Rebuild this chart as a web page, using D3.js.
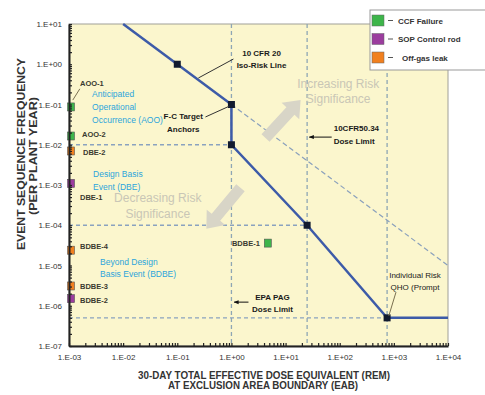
<!DOCTYPE html>
<html>
<head>
<meta charset="utf-8">
<script src="https://cdn.jsdelivr.net/npm/d3@7"></script>
<style>
  body { margin: 0; background: #fff; }
  svg { display: block; font-family: Arial, 'Liberation Sans', sans-serif; }
</style>
</head>
<body>
<div id="chart"></div>
<script>
// ---- data ----
const xTicks = [1e-3, 1e-2, 1e-1, 1e0, 1e1, 1e2, 1e3, 1e4];
const yTicks = [1e-7, 1e-6, 1e-5, 1e-4, 1e-3, 1e-2, 1e-1, 1e0, 1e1];

const isoRiskLine = [[1e-2, 1e1], [1e-1, 1e0], [1e0, 1e-1]];
const isoRiskExtension = [[1e0, 1e-1], [1e4, 1e-5]];
const fcTargetLine = [[1e0, 1e-1], [1e0, 1e-2], [25, 1e-4], [750, 5e-7], [1e4, 5e-7]];
const anchorPoints = [[1e-1, 1e0], [1e0, 1e-1], [1e0, 1e-2], [25, 1e-4], [750, 5e-7]];

const doseLimits = [1, 25, 750];
const freqLevels = [1e-2, 1e-4, 5e-7];
const freqLevelEnds = [1, 25, 750];

const eventNames = ['AOO-1', 'AOO-2', 'DBE-2', 'DBE-1', 'BDBE-4', 'BDBE-3', 'BDBE-2', 'BDBE-1'];
const eventDose = [1e-3, 1e-3, 1e-3, 1e-3, 1e-3, 1e-3, 1e-3, 4.7];
const eventFreq = [8.7e-2, 1.65e-2, 7e-3, 1.1e-3, 2.4e-5, 3.1e-6, 1.5e-6, 3.6e-5];
const eventType = ['CCF Failure', 'CCF Failure', 'Off-gas leak', 'SOP Control rod',
                   'Off-gas leak', 'Off-gas leak', 'SOP Control rod', 'CCF Failure'];

const legendLabels = ['CCF Failure', 'SOP Control rod', 'Off-gas leak'];
const legendColors = ['#3db54a', '#9b3d9e', '#f1801f'];

// ---- layout ----
const W = 485, H = 395;
const margin = { top: 24, right: 37, bottom: 49, left: 69 };
const width = W - margin.left - margin.right;
const height = H - margin.top - margin.bottom;

const svg = d3.select('#chart').append('svg').attr('width', W).attr('height', H);
const g = svg.append('g').attr('transform', `translate(${margin.left},${margin.top})`);

const x = d3.scaleLog().domain([1e-3, 1e4]).range([0, width]);
const y = d3.scaleLog().domain([1e-7, 1e1]).range([height, 0]);
const X = lx => x(10 ** lx);
const Y = ly => y(10 ** ly);
const color = d3.scaleOrdinal().domain(legendLabels).range(legendColors);

const fmt = d => {
    const e = Math.round(Math.log10(d));
    return '1.E' + (e < 0 ? '-' : '+') + String(Math.abs(e)).padStart(2, '0');
};
const isMajor = d => Math.abs(Math.log10(d) - Math.round(Math.log10(d))) < 1e-6;

// plot background
g.append('rect').attr('width', width).attr('height', height)
    .attr('fill', '#fbf6cd').attr('stroke', '#a0a098').attr('stroke-width', 1);

// dashed reference lines
doseLimits.forEach(d => {
    g.append('line').attr('x1', x(d)).attr('x2', x(d)).attr('y1', 0).attr('y2', height)
        .attr('stroke', '#8ea6b4').attr('stroke-width', 1.3).attr('stroke-dasharray', '4,3');
});
freqLevels.forEach((f, i) => {
    g.append('line').attr('x1', 0).attr('x2', x(freqLevelEnds[i])).attr('y1', y(f)).attr('y2', y(f))
        .attr('stroke', '#8aa2bf').attr('stroke-width', 1.3).attr('stroke-dasharray', '4,3');
});

const line = d3.line().x(d => x(d[0])).y(d => y(d[1]));
g.append('path').datum(isoRiskExtension).attr('d', line).attr('fill', 'none')
    .attr('stroke', '#8aa0bc').attr('stroke-width', 1.2).attr('stroke-dasharray', '5,3');

// big grey arrows
function blockArrow(x1, y1, x2, y2, sw, hw, hl) {
    const dx = x2 - x1, dy = y2 - y1, L = Math.hypot(dx, dy);
    const ux = dx / L, uy = dy / L, nx = -uy, ny = ux;
    const bx = x2 - ux * hl, by = y2 - uy * hl;
    return [[x1 + nx * sw / 2, y1 + ny * sw / 2], [bx + nx * sw / 2, by + ny * sw / 2],
            [bx + nx * hw / 2, by + ny * hw / 2], [x2, y2], [bx - nx * hw / 2, by - ny * hw / 2],
            [bx - nx * sw / 2, by - ny * sw / 2], [x1 - nx * sw / 2, y1 - ny * sw / 2]];
}
[[0.63, -1.83, 1.278, -0.888], [0.167, -3.07, -0.463, -4.09]].forEach(a => {
    g.append('polygon')
        .attr('points', blockArrow(X(a[0]), Y(a[1]), X(a[2]), Y(a[3]), 11, 24, 15).map(p => p.join(',')).join(' '))
        .attr('fill', '#d8d5c7');
});

// grey significance text
function multiText(lines, lx, ly, lh, opts) {
    const t = g.append('text').attr('x', X(lx)).attr('y', Y(ly))
        .attr('text-anchor', opts.anchor || 'start')
        .style('font-size', opts.size + 'px').style('fill', opts.fill)
        .style('font-weight', opts.weight || 'normal');
    lines.forEach((s, i) => t.append('tspan').attr('x', X(lx)).attr('dy', i === 0 ? 0 : lh).text(s));
    return t;
}
multiText(['Increasing Risk', 'Significance'], 1.972, -0.59, 15, { anchor: 'middle', size: 12, fill: '#c9c6b6' });
multiText(['Decreasing Risk', 'Significance'], -1.361, -3.42, 16, { anchor: 'middle', size: 12, fill: '#c9c6b6' });

// blue category text
multiText(['Anticipated', 'Operational', 'Occurrence (AOO)'], -2.574, -0.814, 13, { size: 8.5, fill: '#2ba5dc' });
multiText(['Design Basis', 'Event (DBE)'], -2.556, -2.80, 13, { size: 8.5, fill: '#2ba5dc' });
multiText(['Beyond Design', 'Basis Event (BDBE)'], -2.426, -4.99, 12, { size: 8.5, fill: '#2ba5dc' });

// blue F-C lines
g.append('path').datum(isoRiskLine).attr('d', line).attr('fill', 'none')
    .attr('stroke', '#3d5ba8').attr('stroke-width', 2.5);
g.append('path').datum(fcTargetLine).attr('d', line).attr('fill', 'none')
    .attr('stroke', '#3d5ba8').attr('stroke-width', 2.5);
g.selectAll('.anchor').data(anchorPoints).enter().append('rect').attr('class', 'anchor')
    .attr('x', d => x(d[0]) - 3.5).attr('y', d => y(d[1]) - 3.5)
    .attr('width', 7).attr('height', 7).attr('fill', '#111a2e');

// annotation leaders
function leader(a, b, stroke, arrow) {
    const l = g.append('line').attr('x1', X(a[0])).attr('y1', Y(a[1])).attr('x2', X(b[0])).attr('y2', Y(b[1]))
        .attr('stroke', stroke).attr('stroke-width', 1);
    if (arrow) l.attr('marker-end', 'url(#arr)');
}
svg.append('defs').append('marker').attr('id', 'arr').attr('viewBox', '0 0 10 10')
    .attr('refX', 9).attr('refY', 5).attr('markerWidth', 5).attr('markerHeight', 5).attr('orient', 'auto')
    .append('path').attr('d', 'M0,1L10,5L0,9z').attr('fill', '#111');

leader([0.037, 0.13], [-0.611, -0.342], '#333');
leader([-0.48, -1.31], [-0.037, -1.04], '#333');
leader([1.852, -1.81], [1.44, -1.81], '#111', true);
leader([0.315, -5.91], [0.05, -5.91], '#111', true);
leader([3.04, -5.66], [2.907, -6.25], '#7a7050');
leader([-2.93, -0.89], [-2.80, -0.61], '#7a7050');

const ann = { size: 8, fill: '#1a1a1a', weight: 'bold' };
multiText(['10 CFR 20', 'Iso-Risk Line'], 0.556, 0.205, 12, { ...ann, anchor: 'middle' });
multiText(['F-C Target', 'Anchors'], -0.889, -1.36, 13, { ...ann, anchor: 'middle' });
multiText(['10CFR50.34', 'Dose Limit'], 1.889, -1.66, 13, ann);
multiText(['EPA PAG', 'Dose Limit'], 0.759, -5.86, 12, { ...ann, anchor: 'middle' });
multiText(['Individual Risk', 'QHO (Prompt'], 3.39, -5.31, 12, { ...ann, anchor: 'middle', weight: 'normal' });

// event markers
const labelDx = [11, 13, 14, 11, 11, 11, 11, -8];
const labelDy = [-21, 1, 4, 17, -1, 3, 4, 3];
eventNames.forEach((name, i) => {
    const cx = x(eventDose[i]), cy = y(eventFreq[i]);
    g.append('rect').attr('x', cx - 3.5 + (i < 7 ? 2 : 0)).attr('y', cy - 4).attr('width', 7).attr('height', 8)
        .attr('fill', color(eventType[i])).attr('stroke', '#555').attr('stroke-width', 0.6);
    g.append('text').attr('x', cx + labelDx[i]).attr('y', cy + labelDy[i])
        .attr('text-anchor', labelDx[i] < 0 ? 'end' : 'start')
        .style('font-size', '7.5px').style('font-weight', 'bold').style('fill', '#3a3a30').text(name);
});

// axes
const yAxis = d3.axisLeft(y).tickValues(y.ticks()).tickSizeInner(-3).tickSizeOuter(0).tickPadding(7)
    .tickFormat(d => isMajor(d) && yTicks.some(t => Math.abs(t - d) / t < 1e-6) ? fmt(d) : '');
const yG = g.append('g').call(yAxis);
const xAxis = d3.axisBottom(x).tickValues(x.ticks()).tickSizeInner(-3).tickSizeOuter(0).tickPadding(8)
    .tickFormat(d => isMajor(d) && xTicks.some(t => Math.abs(t - d) / t < 1e-6) ? fmt(d) : '');
const xG = g.append('g').attr('transform', `translate(0,${height})`).call(xAxis);
[yG, xG].forEach(a => {
    a.select('.domain').attr('stroke', '#222').attr('stroke-width', 2);
    a.selectAll('.tick line').attr('stroke', '#222').attr('stroke-width', 1.2);
    a.selectAll('.tick text').style('font-size', '8px').style('fill', '#333').style('font-family', 'Arial, sans-serif');
});

// axis titles
svg.append('text').attr('transform', 'rotate(-90)').attr('x', -154).attr('y', 25)
    .attr('text-anchor', 'middle').attr('textLength', 192).attr('lengthAdjust', 'spacingAndGlyphs')
    .style('font-size', '11.5px').style('font-weight', 'bold').style('fill', '#333')
    .text('EVENT SEQUENCE FREQUENCY');
svg.append('text').attr('transform', 'rotate(-90)').attr('x', -156).attr('y', 37)
    .attr('text-anchor', 'middle').attr('textLength', 118).attr('lengthAdjust', 'spacingAndGlyphs')
    .style('font-size', '11.5px').style('font-weight', 'bold').style('fill', '#333')
    .text('(PER PLANT YEAR)');
svg.append('text').attr('x', 264).attr('y', 379).attr('text-anchor', 'middle')
    .attr('textLength', 252).attr('lengthAdjust', 'spacingAndGlyphs')
    .style('font-size', '10px').style('font-weight', 'bold').style('fill', '#333')
    .text('30-DAY TOTAL EFFECTIVE DOSE EQUIVALENT (REM)');
svg.append('text').attr('x', 263).attr('y', 389).attr('text-anchor', 'middle')
    .attr('textLength', 190).attr('lengthAdjust', 'spacingAndGlyphs')
    .style('font-size', '10px').style('font-weight', 'bold').style('fill', '#333')
    .text('AT EXCLUSION AREA BOUNDARY (EAB)');

// legend
const legend = svg.append('g').attr('transform', 'translate(370,10)');
legend.append('rect').attr('width', 120).attr('height', 60)
    .attr('fill', '#fff').attr('stroke', '#999').attr('stroke-width', 1);
legendLabels.forEach((lab, i) => {
    const row = legend.append('g').attr('transform', `translate(2,${5 + i * 18.5})`);
    row.append('rect').attr('width', 12).attr('height', 11).attr('fill', legendColors[i])
        .attr('stroke', '#666').attr('stroke-width', 0.5);
    row.append('line').attr('x1', 16).attr('x2', 21).attr('y1', 5.5).attr('y2', 5.5)
        .attr('stroke', '#555').attr('stroke-width', 1);
    row.append('text').attr('x', i === 2 ? 30 : 26).attr('y', 8.5)
        .style('font-size', '8px').style('font-weight', 'bold').style('fill', '#333').text(lab);
});
</script>
</body>
</html>
